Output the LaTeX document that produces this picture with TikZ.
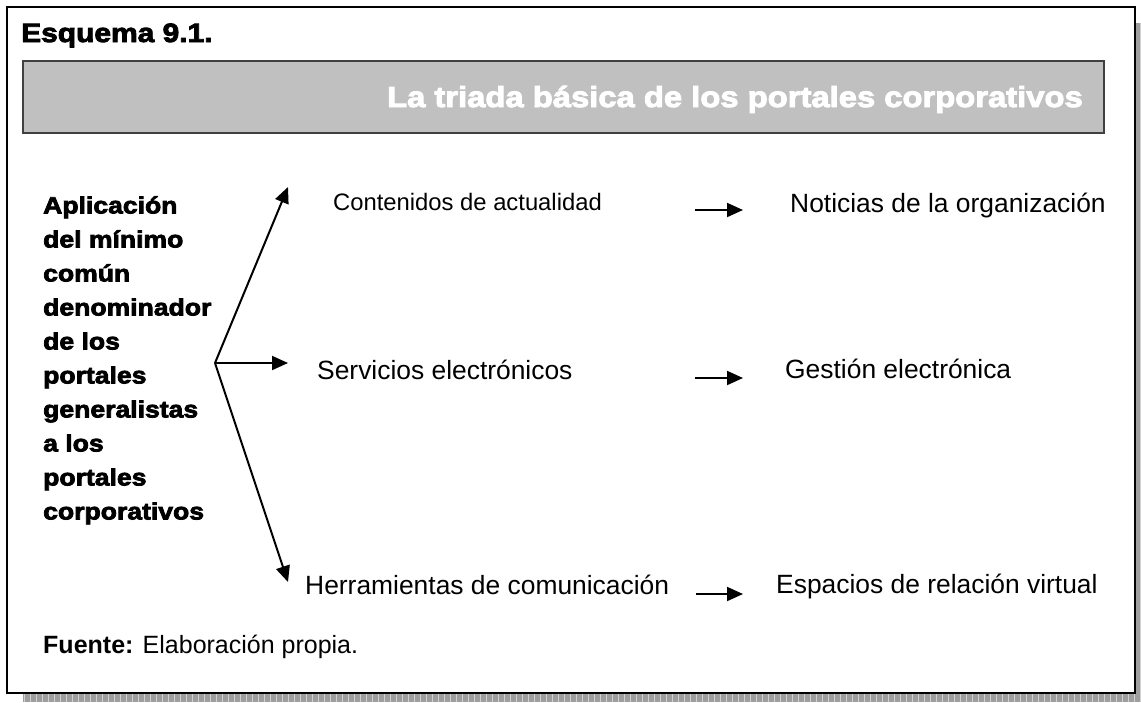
\documentclass[tikz,border=0pt]{standalone}
\usepackage{fontspec}
\setmainfont{Liberation Sans}
\newfontfamily\heavyfont[FakeStretch=1.13,FakeBold=3.2]{Liberation Sans Bold}
\usetikzlibrary{arrows.meta}
\definecolor{bannergray}{RGB}{192,192,192}
\tikzset{
  >={Triangle[length=16pt,width=14pt]},
  {frame box/.style} ={draw=black,line width=2.2pt,fill=white},
  {shadow box/.style} ={fill=black!38},
  {banner/.style} ={draw=black!75,line width=2pt,fill=bannergray},
  {item/.style} ={anchor=base west,inner sep=0,font=\fontsize{26.4}{30}\selectfont},
  {heavy text/.style} ={anchor=base west,inner sep=0,font=\heavyfont\fontsize{#1}{34}\selectfont},
  {link/.style} ={->,line width=2pt},
}
\begin{document}
\begin{tikzpicture}[x=1pt,y=-1pt]
\useasboundingbox (0,0) rectangle (1141,702);
% shadow and frame
\fill[shadow box] (23,23) rectangle (1141,702);
\draw[black!18,line width=0.7pt,step=6] (23,23) grid (1141,702);
\draw[frame box] (7,7) rectangle (1135,693);
\draw[banner] (23,61) rectangle (1104,133);
\node[heavy text=26.5] (Esq) at (21,42) {Esquema 9.1.};
\node[heavy text=29,text=white,anchor=base east] (Tit) at (1083,107)
  {La triada básica de los portales corporativos};
% left block
\node[heavy text=23.5,anchor=north west,align=left] (Apl) at (43,196)
  {Aplicación\\del mínimo\\común\\denominador\\de los\\portales\\generalistas\\a los\\portales\\corporativos};
% middle and right column
\node[item,font=\fontsize{23.8}{28}\selectfont] (Cont) at (333,210) {Contenidos de actualidad};
\node[item] (Serv) at (317,379) {Servicios electrónicos};
\node[item] (Herr) at (305,594) {Herramientas de comunicación};
\node[item] (Not) at (790,212) {Noticias de la organización};
\node[item] (Gest) at (785,378) {Gestión electrónica};
\node[item] (Esp) at (776,593) {Espacios de relación virtual};
\node[item,font=\fontsize{25}{30}\selectfont] (Fue) at (43,653) {\textbf{Fuente:} Elaboración propia.};
% arrows
\coordinate (hub) at (215,363);
\coordinate (hub up) at (288,187);
\coordinate (hub mid) at (288,363);
\coordinate (hub down) at (288,582);
\draw[link] (hub) -- (hub up);
\draw[link] (hub) -- (hub mid);
\draw[link] (hub) -- (hub down);
\coordinate (Cont out) at (695,210);
\coordinate (Not in) at (743,210);
\coordinate (Serv out) at (695,378);
\coordinate (Gest in) at (743,378);
\coordinate (Herr out) at (696,594);
\coordinate (Esp in) at (743,594);
\draw[link] (Cont out) -- (Not in);
\draw[link] (Serv out) -- (Gest in);
\draw[link] (Herr out) -- (Esp in);
\end{tikzpicture}
\end{document}
